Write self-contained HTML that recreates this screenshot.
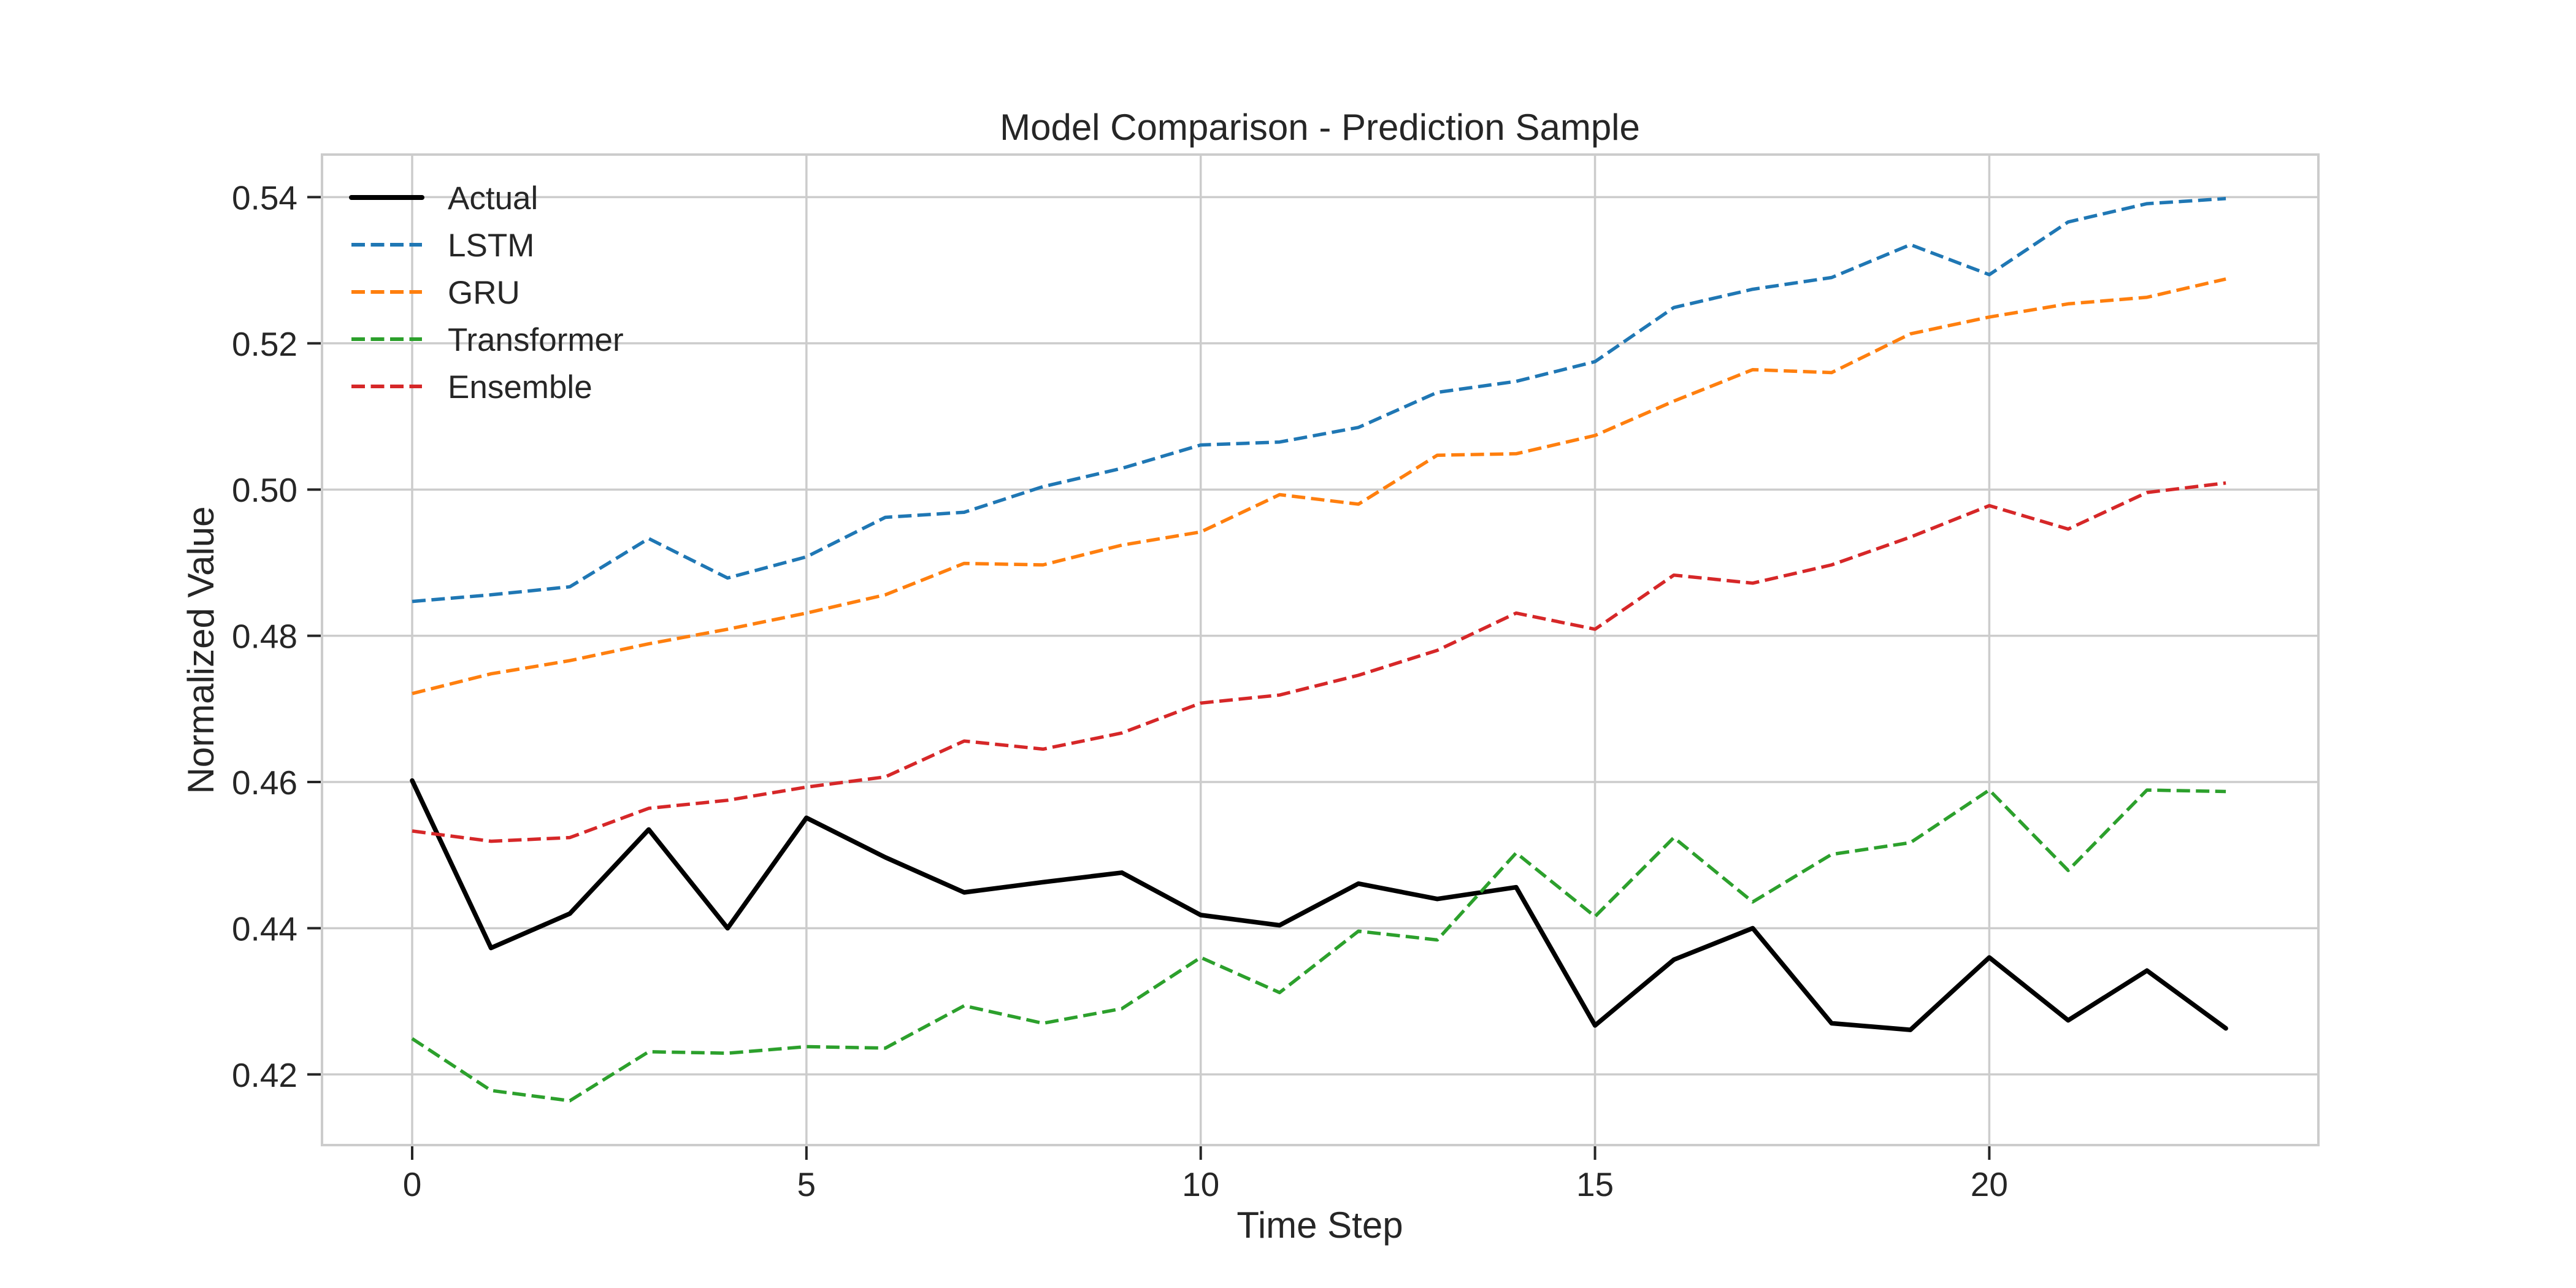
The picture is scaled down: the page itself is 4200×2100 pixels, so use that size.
<!DOCTYPE html>
<html><head><meta charset="utf-8"><style>
html,body{margin:0;padding:0;background:#fff}
svg{display:block}
text{font-family:"Liberation Sans",Arial,sans-serif;fill:#262626}
</style></head><body>
<svg id="chart" width="4200" height="2100" viewBox="0 0 4200 2100" xmlns="http://www.w3.org/2000/svg">
<rect width="4200" height="2100" fill="#fff"/>
<g id="grid"></g>
<g id="series"></g>
<g id="axes"></g>
<g id="legend"></g>
<text x="2152" y="228" font-size="60" text-anchor="middle">Model Comparison - Prediction Sample</text>
<text x="2152" y="2018" font-size="60" text-anchor="middle">Time Step</text>
<text x="0" y="0" font-size="60" text-anchor="middle" transform="translate(348,1060) rotate(-90)">Normalized Value</text>
</svg>
<script>
const steps = [0,1,2,3,4,5,6,7,8,9,10,11,12,13,14,15,16,17,18,19,20,21,22,23];
const actual = [0.4602,0.4373,0.4420,0.4535,0.4400,0.4551,0.4497,0.4449,0.4463,0.4476,0.4418,0.4404,0.4461,0.4440,0.4456,0.4267,0.4357,0.4400,0.4270,0.4261,0.4360,0.4274,0.4342,0.4263];
const lstm = [0.4847,0.4856,0.4867,0.4933,0.4879,0.4908,0.4962,0.4969,0.5004,0.5029,0.5061,0.5065,0.5085,0.5133,0.5148,0.5175,0.5249,0.5274,0.5290,0.5335,0.5294,0.5366,0.5391,0.5398];
const gru = [0.4721,0.4748,0.4766,0.4789,0.4809,0.4831,0.4856,0.4899,0.4897,0.4924,0.4942,0.4993,0.4980,0.5047,0.5049,0.5074,0.5121,0.5164,0.5160,0.5213,0.5236,0.5254,0.5263,0.5288];
const transformer = [0.4249,0.4178,0.4164,0.4231,0.4229,0.4238,0.4236,0.4294,0.4270,0.4290,0.4360,0.4312,0.4396,0.4384,0.4503,0.4416,0.4524,0.4436,0.4501,0.4517,0.4589,0.4479,0.4589,0.4587];
const ensemble = [0.4533,0.4519,0.4524,0.4564,0.4575,0.4593,0.4607,0.4656,0.4645,0.4667,0.4708,0.4719,0.4746,0.4780,0.4831,0.4809,0.4883,0.4872,0.4897,0.4935,0.4978,0.4946,0.4996,0.5009];
const xTicks = [0,5,10,15,20];
const yTicks = [0.42,0.44,0.46,0.48,0.50,0.52,0.54];
const yTickLabels = ["0.42","0.44","0.46","0.48","0.50","0.52","0.54"];
const seriesNames = ["Actual","LSTM","GRU","Transformer","Ensemble"];

const NS="http://www.w3.org/2000/svg";
const L=525,R=3780,T=252,B=1867;
function xs(v){return 672+(v-0)*128.57;}
function ys(v){return 321.4+(0.54-v)*11920;}
function mk(tag,attrs,parent){const e=document.createElementNS(NS,tag);for(const k in attrs)e.setAttribute(k,attrs[k]);parent.appendChild(e);return e;}
const grid=document.getElementById('grid'),axes=document.getElementById('axes'),ser=document.getElementById('series'),leg=document.getElementById('legend');

xTicks.forEach(t=>{
  const g=mk('line',{x1:xs(t),x2:xs(t),y1:T,y2:B,stroke:'#cccccc','stroke-width':3.5},grid);
  
  
  const tk=mk('line',{x1:xs(t),x2:xs(t),y1:B+2,y2:B+24,stroke:'#262626','stroke-width':4},axes);
  
  
  const tx=mk('text',{x:xs(t),y:1950,'font-size':55,'text-anchor':'middle'},axes);
  tx.textContent=String(t);
  
  
});
yTicks.forEach((t,i)=>{
  const g=mk('line',{x1:L,x2:R,y1:ys(t),y2:ys(t),stroke:'#cccccc','stroke-width':3.5},grid);
  
  
  const tk=mk('line',{x1:L-24,x2:L-2,y1:ys(t),y2:ys(t),stroke:'#262626','stroke-width':4},axes);
  
  
  const tx=mk('text',{x:L-40,y:ys(t)+20,'font-size':55,'text-anchor':'end'},axes);
  tx.textContent=yTickLabels[i];
  
  
});
const frame=mk('rect',{x:L,y:T,width:R-L,height:B-T,fill:'none',stroke:'#cccccc','stroke-width':4},axes);



const colors=['#000000','#1f77b4','#ff7f0e','#2ca02c','#d62728'];
const datas=[actual,lstm,gru,transformer,ensemble];
const names=['actual-line','lstm-line','gru-line','transformer-line','ensemble-line'];
datas.forEach((d,i)=>{
  const pts=d.map((v,j)=>xs(steps[j]).toFixed(1)+','+ys(v).toFixed(1)).join(' ');
  const a={points:pts,fill:'none',stroke:colors[i],'stroke-width':i==0?7.5:5.5,'stroke-linejoin':'round'};
  if(i>0){a['stroke-dasharray']='22 9.5';}else{a['stroke-linecap']='round';}
  const p=mk('polyline',a,ser);
  
  
});
const rowY=[322,399,476,553,630];
seriesNames.forEach((n,i)=>{
  const a={x1:573,x2:688,y1:rowY[i],y2:rowY[i],stroke:colors[i],'stroke-width':i==0?8:6};
  if(i>0){a['stroke-dasharray']='22 9.5';}else{a['stroke-linecap']='round';}
  const l=mk('line',a,leg);
  
  
  const t=mk('text',{x:730,y:rowY[i]+19,'font-size':53},leg);
  t.textContent=n;
  
  
});
</script>
</body></html>
